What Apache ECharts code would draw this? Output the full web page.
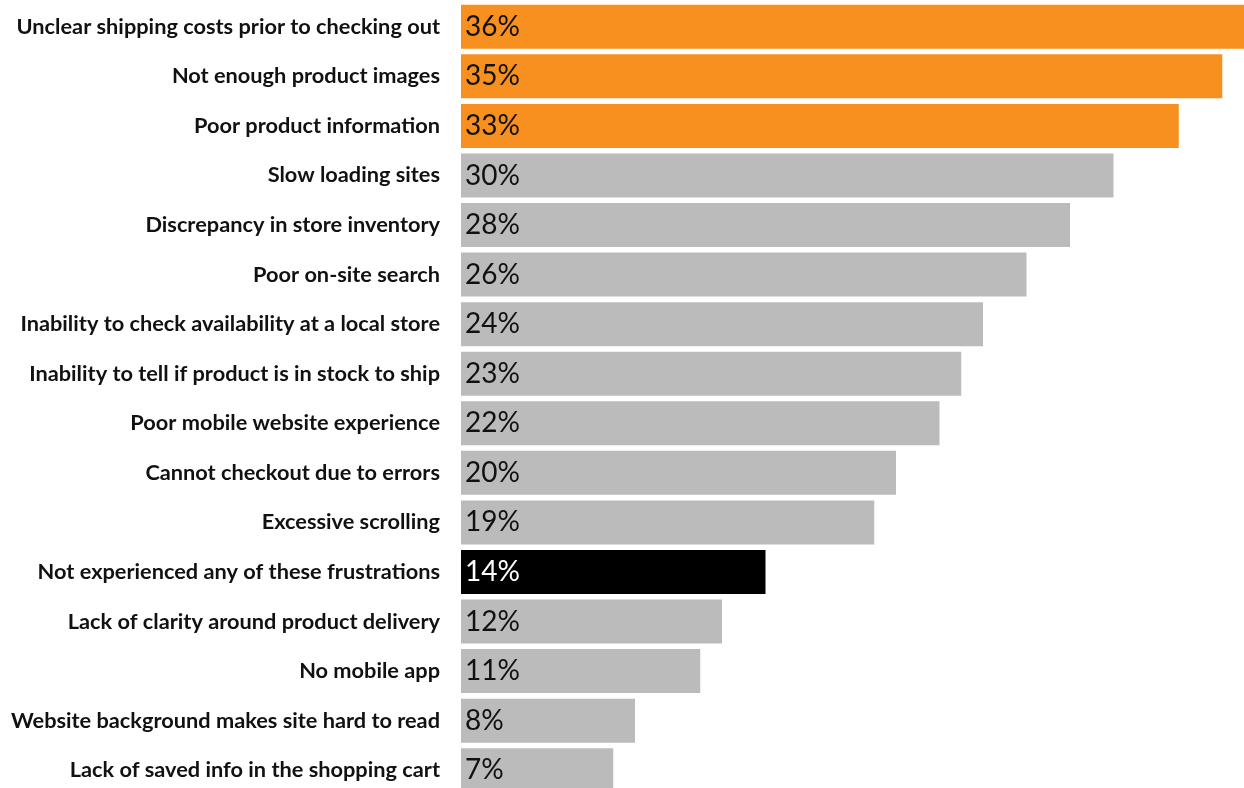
<!DOCTYPE html>
<html>
<head>
<meta charset="utf-8">
<script src="https://cdn.jsdelivr.net/npm/echarts@6/dist/echarts.min.js"></script>
<style>
  html, body { margin: 0; padding: 0; background: #ffffff; overflow: hidden; }
  #chart { width: 1244px; height: 796px; }
</style>
</head>
<body>
<div id="chart"></div>
<script>
// Online shopping frustrations, share of respondents (%)
const categories = [
  'Unclear shipping costs prior to checking out',
  'Not enough product images',
  'Poor product information',
  'Slow loading sites',
  'Discrepancy in store inventory',
  'Poor on-site search',
  'Inability to check availability at a local store',
  'Inability to tell if product is in stock to ship',
  'Poor mobile website experience',
  'Cannot checkout due to errors',
  'Excessive scrolling',
  'Not experienced any of these frustrations',
  'Lack of clarity around product delivery',
  'No mobile app',
  'Website background makes site hard to read',
  'Lack of saved info in the shopping cart'
];
const values = [36, 35, 33, 30, 28, 26, 24, 23, 22, 20, 19, 14, 12, 11, 8, 7];
// highlight group per row: top = leading frustrations, none = no frustration, other = rest
const groups = ['top', 'top', 'top', 'other', 'other', 'other', 'other', 'other',
                'other', 'other', 'other', 'none', 'other', 'other', 'other', 'other'];

const palette = { top: '#F7901E', other: '#BBBBBB', none: '#000000' };
const labelColor = { top: '#111111', other: '#111111', none: '#ffffff' };

const chart = echarts.init(document.getElementById('chart'), null, { renderer: 'canvas' });

chart.setOption({
  backgroundColor: '#ffffff',
  animation: false,
  // the last row runs slightly past the bottom of the visible page
  grid: { left: 461, right: 0, top: 2, height: 793, containLabel: false },
  xAxis: {
    type: 'value',
    min: 0,
    max: 36,
    show: false
  },
  yAxis: {
    type: 'category',
    data: categories,
    inverse: true,
    axisLine: { show: false },
    axisTick: { show: false },
    splitLine: { show: false },
    axisLabel: {
      margin: 21,
      color: '#111111',
      fontFamily: 'Lato',
      fontWeight: 'bold',
      fontSize: 21.75
    }
  },
  series: [{
    type: 'bar',
    barWidth: 44,
    data: values.map((v, i) => ({
      value: v,
      itemStyle: { color: palette[groups[i]] },
      label: { color: labelColor[groups[i]] }
    })),
    label: {
      show: true,
      position: 'insideLeft',
      distance: 4,
      formatter: '{c}%',
      fontFamily: 'Lato',
      fontSize: 28
    }
  }]
});
</script>
</body>
</html>
